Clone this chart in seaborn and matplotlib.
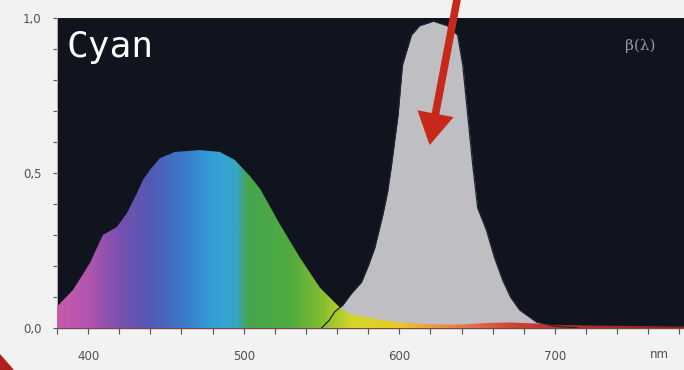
import numpy as np
import matplotlib
matplotlib.use("Agg")
import matplotlib.pyplot as plt
import seaborn as sns
import pandas as pd
from matplotlib.colors import LinearSegmentedColormap
from matplotlib.patches import Polygon

# Transmitted light spectrum (coloured area)
spec_nm = [380, 390.3, 401.2, 409.5, 418.5, 425, 431.4, 435.2, 439.7, 446.2,
           455.8, 471.8, 484.7, 494.3, 504, 510.4, 516, 523.2, 536, 549, 562,
           568, 578, 590, 600, 620, 640, 655, 670, 690, 700, 720, 783]
spec_val = [0.069, 0.123, 0.21, 0.30, 0.326, 0.371, 0.435, 0.477, 0.51, 0.548,
            0.568, 0.574, 0.568, 0.542, 0.49, 0.45, 0.40, 0.335, 0.228, 0.13,
            0.065, 0.045, 0.035, 0.025, 0.018, 0.012, 0.011, 0.016, 0.018,
            0.014, 0.01, 0.008, 0.005]

# Absorption curve beta(lambda) (grey area)
beta_nm = [550, 555, 558.5, 563.7, 569, 575.7, 580, 584.2, 589.4, 592.5, 595.0,
           599.2, 602.0, 607.8, 613, 622, 631, 637.5, 640.8, 644.0, 647.2,
           650.4, 656, 661, 666.4, 671.5, 677.4, 688.3, 700, 715]
beta_val = [0.0, 0.025, 0.052, 0.074, 0.11, 0.148, 0.2, 0.258, 0.365, 0.44,
            0.526, 0.687, 0.848, 0.945, 0.975, 0.99, 0.975, 0.945, 0.848,
            0.687, 0.526, 0.387, 0.316, 0.23, 0.155, 0.1, 0.058, 0.019, 0.006,
            0.0]

x_ticks = [400, 500, 600, 700]
x_labels = ["400", "500", "600", "700"]
y_ticks = [0.0, 0.5, 1.0]
y_labels = ["0,0", "0,5", "1,0"]

# colour nodes of the spectrum gradient
grad_nm = [380, 400, 420, 440, 460, 480, 495, 502, 530, 550, 570, 600, 640, 680, 783]
grad_col = ["#c85aaa", "#af55af", "#7850af", "#505ab4", "#3c78c8", "#32a0d7",
            "#37a5c8", "#46a550", "#50aa3c", "#82be32", "#d2d728", "#ebc828",
            "#e67850", "#c83c32", "#8c1e1e"]

XMIN, XMAX = 380, 783

sns.set_theme(style="ticks")
plt.rcParams['font.family'] = ['DejaVu Sans']

fig = plt.figure(figsize=(6.84, 3.70), dpi=100, facecolor="#f2f2f2")
ax = fig.add_axes([57 / 684, 42 / 370, 1 - 57 / 684, 310 / 370])
ax.set_facecolor("#10141e")

beta_df = pd.DataFrame({"nm": beta_nm, "val": beta_val})
spec_df = pd.DataFrame({"nm": spec_nm, "val": spec_val})

# grey beta curve
ax.fill_between(beta_df["nm"], beta_df["val"], color="#bebec3", lw=0, zorder=2)

# coloured spectrum: gradient image clipped to the filled area
pos = [(v - XMIN) / (XMAX - XMIN) for v in grad_nm]
cmap = LinearSegmentedColormap.from_list("spec", list(zip(pos, grad_col)))
poly = ax.fill_between(spec_df["nm"], spec_df["val"], color="none", lw=0, zorder=3)
grad = np.linspace(0, 1, 512).reshape(1, -1)
im = ax.imshow(grad, extent=[XMIN, XMAX, 0, 1], aspect="auto", cmap=cmap,
               origin="lower", zorder=3, interpolation="bilinear")
im.set_clip_path(poly.get_paths()[0], ax.transData)

# outline of the grey curve over the coloured area
sns.lineplot(data=beta_df, x="nm", y="val", ax=ax, color="#20242c", lw=0.9,
             zorder=4, sort=False)

ax.set_xlim(XMIN, XMAX)
ax.set_ylim(0, 1.0)

ax.set_xticks(x_ticks)
ax.set_xticklabels(x_labels)
ax.set_xticks(np.arange(380, 784, 20), minor=True)
ax.set_yticks(y_ticks)
ax.set_yticklabels(y_labels)
ax.set_yticks(np.arange(0, 1.01, 0.1), minor=True)
ax.tick_params(axis="both", which="both", color="#555555", width=0.8,
               labelsize=8.5, labelcolor="#505050")
ax.tick_params(axis="x", which="both", length=4, pad=12)
ax.tick_params(axis="y", which="both", length=3, pad=8)
for s in ["top", "right"]:
    ax.spines[s].set_visible(False)
ax.spines["left"].set_color("#cccccc")
ax.spines["bottom"].set_color("#7a4a40")
ax.spines["left"].set_linewidth(0.6)
ax.spines["bottom"].set_linewidth(1.0)
ax.set_xlabel("")
ax.set_ylabel("")

ax.text(767, -0.085, "nm", ha="center", va="center", fontsize=8.5,
        color="#505050", transform=ax.transData, clip_on=False)

ax.text(0.015, 0.905, "Cyan", transform=ax.transAxes, color="white",
        fontsize=26, family="DejaVu Sans Mono", ha="left", va="center")
ax.text(0.955, 0.91, "β(λ)", transform=ax.transAxes, color="#9a9aa6",
        fontsize=11, family="DejaVu Serif", ha="right", va="center")

# red arrow
ax.annotate("", xy=(619.5, 0.59), xytext=(637.5, 1.07), xycoords="data",
            textcoords="data", annotation_clip=False,
            arrowprops=dict(arrowstyle="simple,head_length=1.0,head_width=1.15,tail_width=0.24",
                            mutation_scale=23, fc="#c8281a", ec="none",
                            shrinkA=0, shrinkB=0), zorder=6)

# red corner decoration
fig.patches.append(Polygon([[0, 0], [0, 16 / 370], [14 / 684, 0]], closed=True,
                           transform=fig.transFigure, fc="#b0201a", ec="none"))

fig.savefig("out.png", dpi=100, facecolor=fig.get_facecolor())
